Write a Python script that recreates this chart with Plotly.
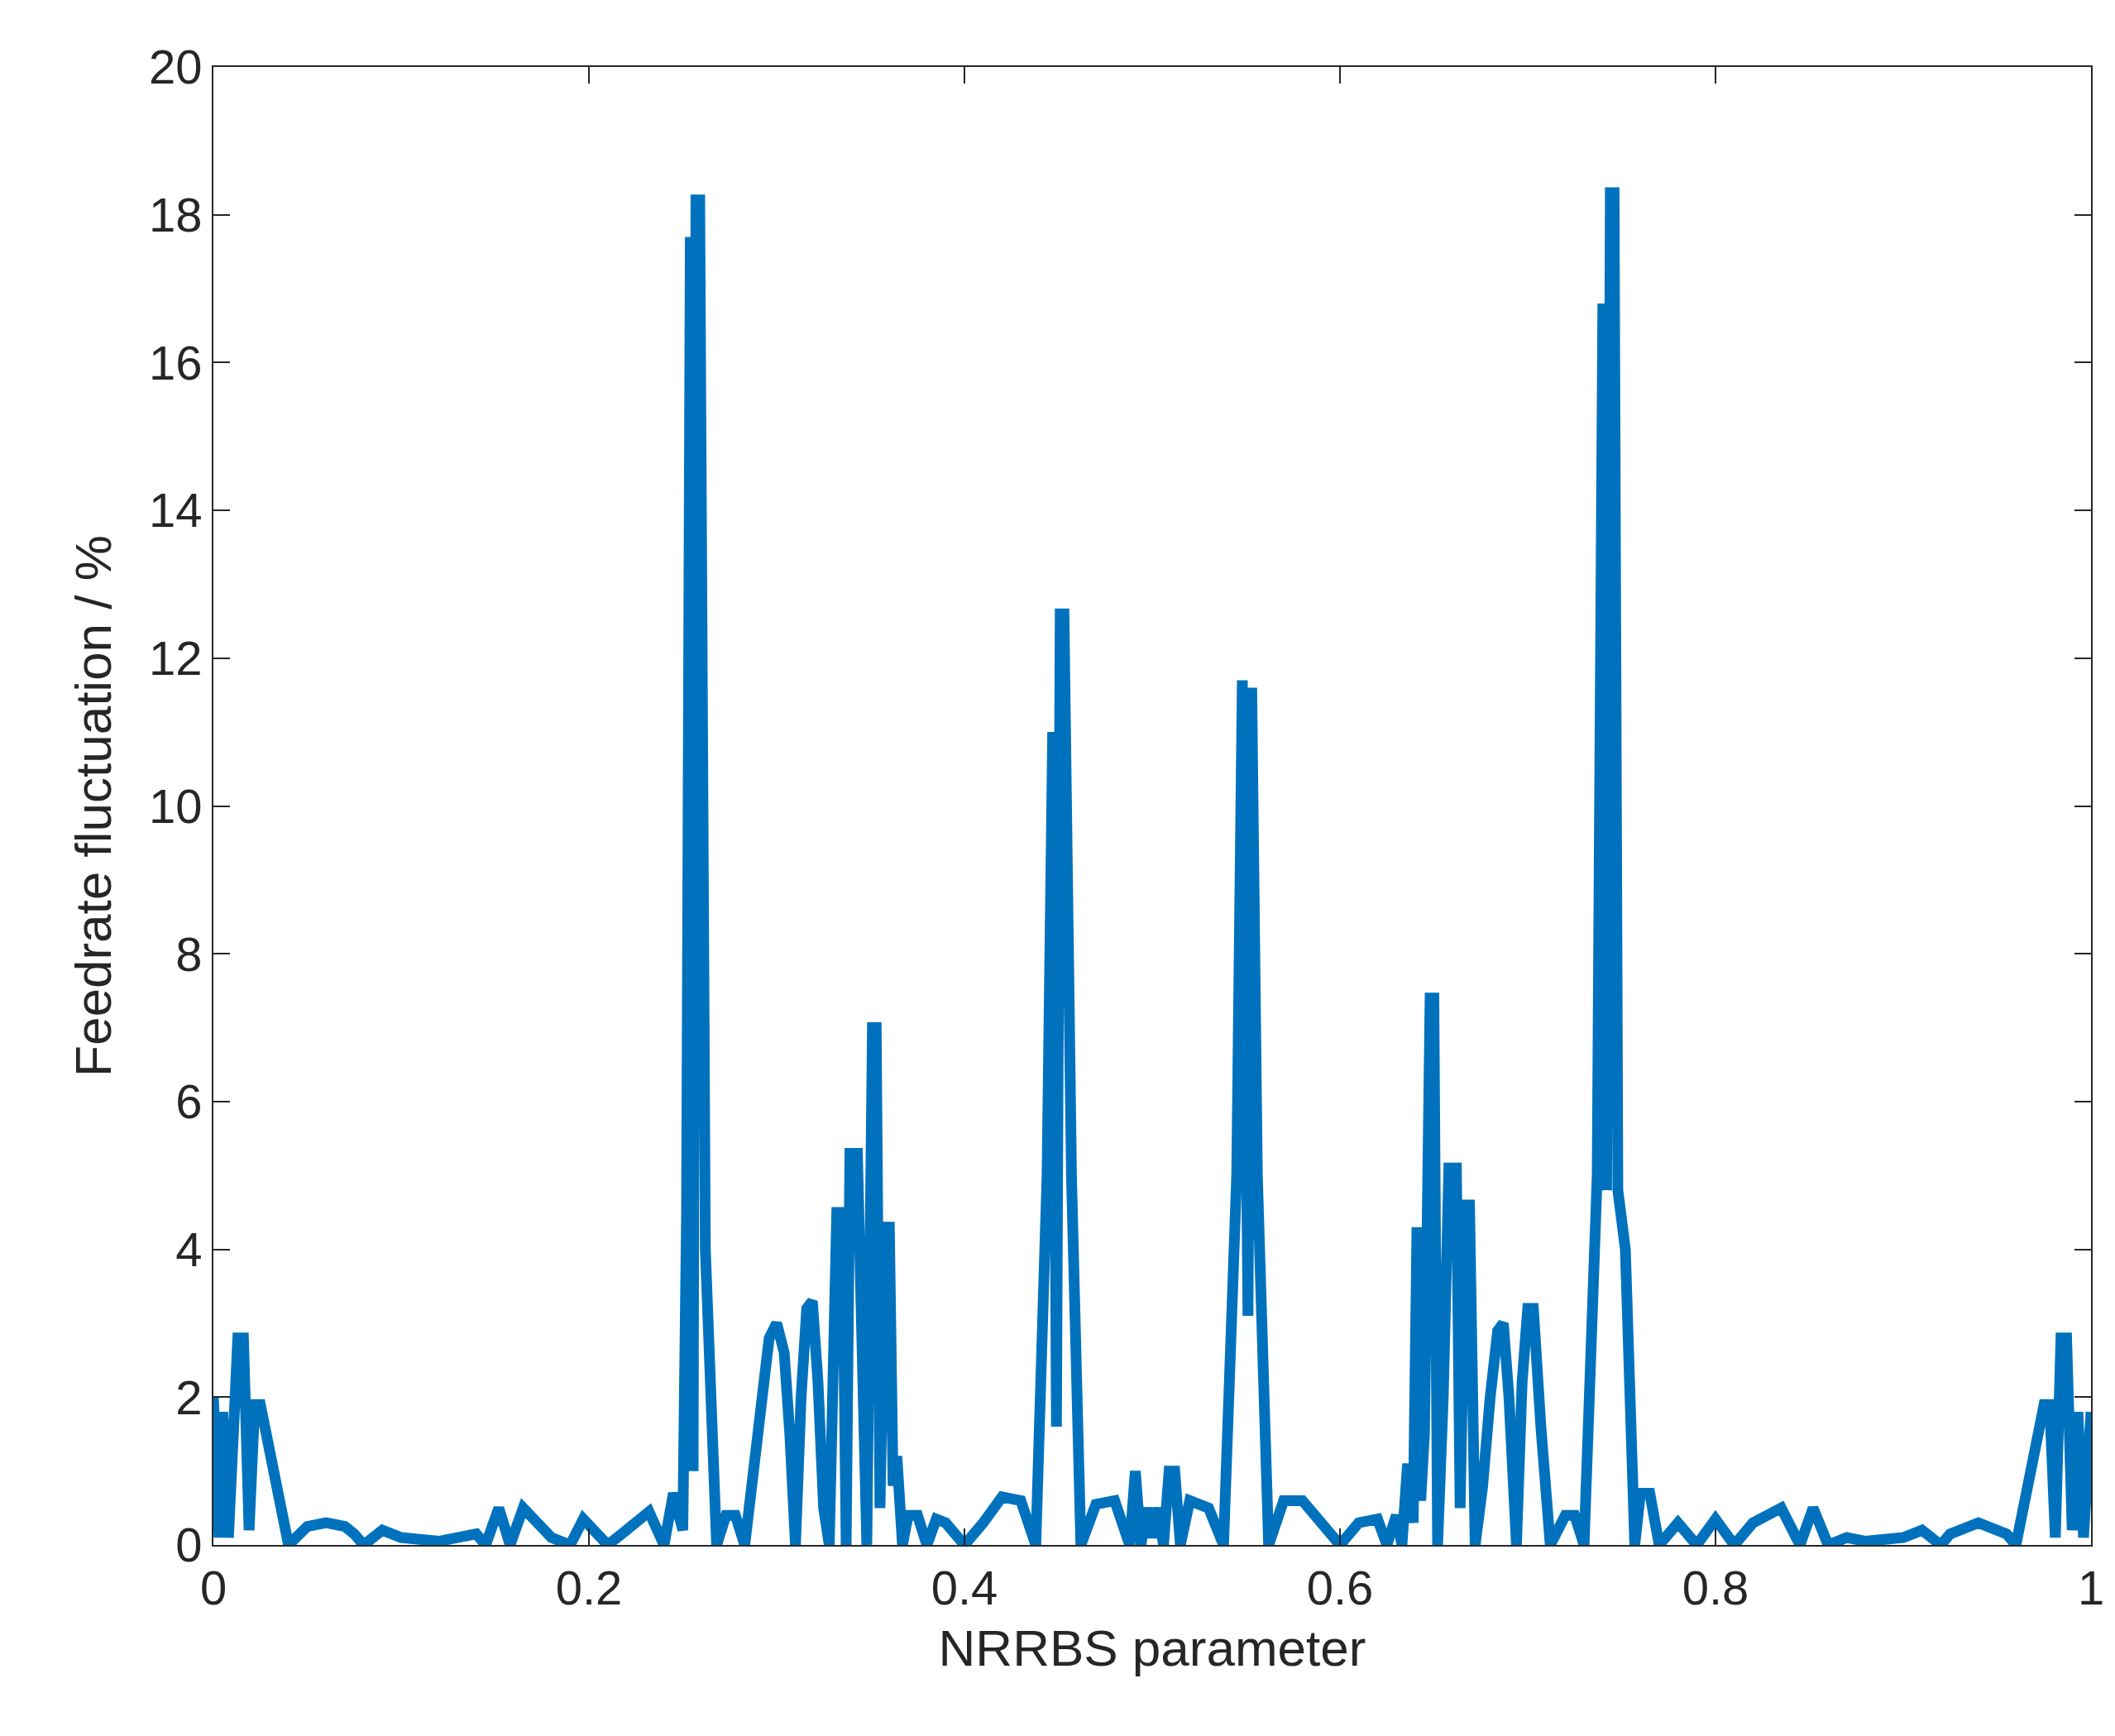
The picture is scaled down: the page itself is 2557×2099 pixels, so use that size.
import plotly.graph_objects as go

# digitised NRRBS parameter vs feedrate fluctuation (%)
x_vals = [0, 0.003, 0.005, 0.008, 0.011, 0.013, 0.016, 0.019, 0.022, 0.025, 0.04, 0.045, 0.05, 0.06, 0.07, 0.075, 0.08,
          0.09, 0.1, 0.12, 0.135, 0.14, 0.145, 0.152, 0.158, 0.165, 0.18, 0.19, 0.197, 0.21, 0.22, 0.232,
          0.24, 0.245, 0.25, 0.252, 0.254, 0.2555, 0.257, 0.259, 0.262, 0.268, 0.273, 0.278, 0.283,
          0.287, 0.292, 0.296, 0.300, 0.304, 0.307, 0.31, 0.313, 0.316, 0.319, 0.322, 0.325, 0.328,
          0.332, 0.335, 0.337, 0.339, 0.343, 0.346,
          0.348, 0.351, 0.353, 0.355, 0.358, 0.36, 0.362, 0.364, 0.367, 0.37, 0.375, 0.38, 0.385, 0.39,
          0.4, 0.41, 0.42, 0.43, 0.438, 0.444, 0.447, 0.449, 0.451, 0.453, 0.457, 0.462, 0.47, 0.48, 0.488,
          0.491, 0.494, 0.497, 0.5, 0.503, 0.506, 0.509, 0.512, 0.515, 0.52, 0.53, 0.538, 0.545, 0.548,
          0.551, 0.553, 0.556, 0.562, 0.57, 0.58, 0.6, 0.61, 0.62, 0.625, 0.63, 0.633, 0.636, 0.639, 0.641,
          0.643, 0.645, 0.648, 0.65, 0.652, 0.655, 0.658, 0.662, 0.664, 0.667, 0.669, 0.672,
          0.676, 0.680, 0.684, 0.687, 0.690, 0.694, 0.697, 0.700, 0.703, 0.707, 0.712,
          0.72, 0.725, 0.73, 0.737, 0.74, 0.742, 0.744, 0.746, 0.748,
          0.752, 0.757, 0.76, 0.765, 0.77, 0.78, 0.79, 0.8, 0.81, 0.82, 0.835, 0.845, 0.852, 0.86, 0.87,
          0.88, 0.9, 0.91, 0.92, 0.925, 0.94, 0.955, 0.96, 0.975, 0.978, 0.981, 0.984, 0.987, 0.99, 0.993,
          0.996, 1.0]
y_vals = [2.0, 0.1, 1.8, 0.1, 1.7, 2.8, 2.8, 0.2, 1.9, 1.9, 0.0, 0.15, 0.25, 0.3, 0.25, 0.15, 0.0,
          0.2, 0.1, 0.05, 0.1, 0.15, 0.0, 0.5, 0.0, 0.5, 0.1, 0.0, 0.35, 0.0, 0.2, 0.45,
          0.0, 0.7, 0.2, 4.5, 17.7, 1.0, 18.2, 18.2, 4.0, 0.0, 0.4, 0.4, 0.0,
          0.8, 2.0, 2.8, 3.0, 2.6, 1.5, 0.0, 2.0, 3.2, 3.3, 2.2, 0.5, 0.0,
          4.5, 4.5, 0.0, 5.3, 5.3, 1.0,
          0.0, 7.0, 7.0, 0.5, 4.3, 4.3, 0.8, 1.2, 0.0, 0.4, 0.4, 0.0, 0.35, 0.3,
          0.0, 0.3, 0.65, 0.6, 0.0, 5.0, 11.0, 1.6, 12.6, 12.6, 5.0, 0.0, 0.55, 0.6, 0.0,
          1.0, 0.0, 0.5, 0.1, 0.5, 0.0, 1.0, 1.0, 0.0, 0.6, 0.5, 0.0, 5.0, 11.7,
          3.1, 11.6, 5.0, 0.0, 0.6, 0.6, 0.0, 0.3, 0.35, 0.0, 0.4, 0.0, 1.1, 0.3, 4.3,
          0.6, 1.5, 7.4, 7.4, 0.0, 2.0, 5.1, 5.1, 0.5, 4.6, 4.6, 0.0,
          0.8, 2.0, 2.9, 3.0, 2.0, 0.0, 2.2, 3.2, 3.2, 1.6, 0.0,
          0.4, 0.4, 0.0, 5.0, 16.8, 4.8, 18.3, 18.3, 4.8,
          4.0, 0.0, 0.7, 0.7, 0.0, 0.3, 0.0, 0.35, 0.0, 0.3, 0.5, 0.0, 0.5, 0.0, 0.1,
          0.05, 0.1, 0.2, 0.0, 0.15, 0.3, 0.15, 0.0, 1.9, 1.9, 0.1, 2.8, 2.8, 0.2, 1.8,
          0.1, 1.8]

x_ticks = [0, 0.2, 0.4, 0.6, 0.8, 1]
x_labels = ['0', '0.2', '0.4', '0.6', '0.8', '1']
y_ticks = list(range(0, 21, 2))

fig = go.Figure()
fig.add_trace(go.Scatter(x=x_vals, y=y_vals, mode='lines',
                         line=dict(color='#0072BD', width=13), showlegend=False))

axis_common = dict(showline=True, mirror='ticks', linecolor='#262626', linewidth=2,
                   ticks='inside', ticklen=20, tickwidth=2, tickcolor='#262626',
                   showgrid=False, zeroline=False,
                   tickfont=dict(family='Liberation Sans, Arial', size=58, color='#262626'))

fig.update_layout(
    width=2557, height=2099, plot_bgcolor='white', paper_bgcolor='white',
    margin=dict(l=250, r=37, t=73, b=239),
    xaxis=dict(range=[0, 1], tickvals=x_ticks, ticktext=x_labels,
               title=dict(text='NRRBS parameter', standoff=20,
                          font=dict(family='Liberation Sans, Arial', size=62, color='#262626')),
               **axis_common),
    yaxis=dict(range=[0, 20], tickvals=y_ticks,
               title=dict(text='Feedrate fluctuation / %', standoff=25,
                          font=dict(family='Liberation Sans, Arial', size=62, color='#262626')),
               **axis_common),
)

fig.write_html("out.html")
